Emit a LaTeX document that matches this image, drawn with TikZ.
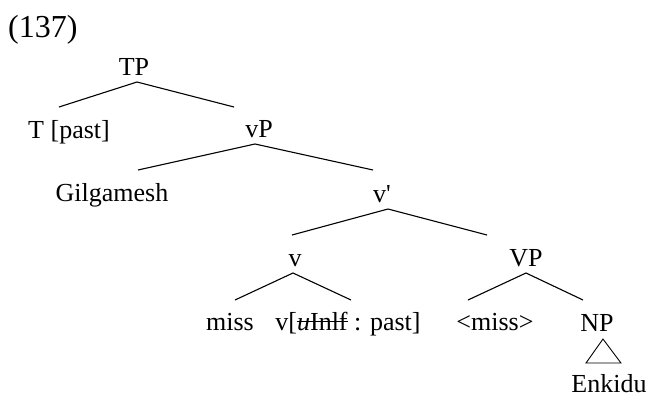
\documentclass[tikz,border=0pt]{standalone}
\usepackage{fontspec}
\setmainfont{Liberation Serif}
\newfontfamily\straightfont{Liberation Serif}
\newsavebox\strikebox
\newcommand\mystrike[1]{\sbox\strikebox{#1}\rlap{\rule[0.3em]{\wd\strikebox}{1.2pt}}\usebox\strikebox}
\begin{document}
\begin{tikzpicture}[x=1pt,y=-1pt,
  lbl/.style={anchor=base,inner sep=0pt,font=\fontsize{26}{30}\selectfont},
  br/.style={line width=1.1pt}]
\useasboundingbox (0,0) rectangle (649,397);
% labels
\node[lbl,anchor=base west,font=\fontsize{32}{36}\selectfont] (ex) at (8,37) {(137)};
\node[lbl] (TP) at (134,75) {TP};
\node[lbl] (T) at (69,138) {T [past]};
\node[lbl] (vP) at (259,137) {vP};
\node[lbl] (Gil) at (112,201) {Gilgamesh};
\node[lbl] (vbar) at (382,202) {\straightfont v'};
\node[lbl] (v) at (295,266) {v};
\node[lbl] (VP) at (526,266) {VP};
\node[lbl] (miss) at (230,330) {miss};
\node[lbl] (vfeat) at (348,330) {v[\mystrike{\textit{u}Inlf} : past]};
\node[lbl] (tmiss) at (495,330) {<miss>};
\node[lbl] (NP) at (597,331) {NP};
\node[lbl] (Enk) at (609,392) {Enkidu};
% branch points
\coordinate (TPa) at (137,82);
\coordinate (TPl) at (59,107);
\coordinate (TPr) at (234,107);
\coordinate (vPa) at (255,144);
\coordinate (vPl) at (138,170);
\coordinate (vPr) at (373,170);
\coordinate (vba) at (388,209);
\coordinate (vbl) at (292,235);
\coordinate (vbr) at (487,235);
\coordinate (va) at (293,273);
\coordinate (vl) at (235,300);
\coordinate (vr) at (351,300);
\coordinate (VPa) at (526,273);
\coordinate (VPl) at (468,300);
\coordinate (VPr) at (583,300);
\coordinate (tra) at (603,339);
\coordinate (trl) at (586,363);
\coordinate (trr) at (621,363);
% branches
\draw[br] (TPl) -- (TPa) -- (TPr);
\draw[br] (vPl) -- (vPa) -- (vPr);
\draw[br] (vbl) -- (vba) -- (vbr);
\draw[br] (vl) -- (va) -- (vr);
\draw[br] (VPl) -- (VPa) -- (VPr);
\draw[br,line width=0.9pt] (tra) -- (trl) -- (trr) -- cycle;
\end{tikzpicture}
\end{document}
